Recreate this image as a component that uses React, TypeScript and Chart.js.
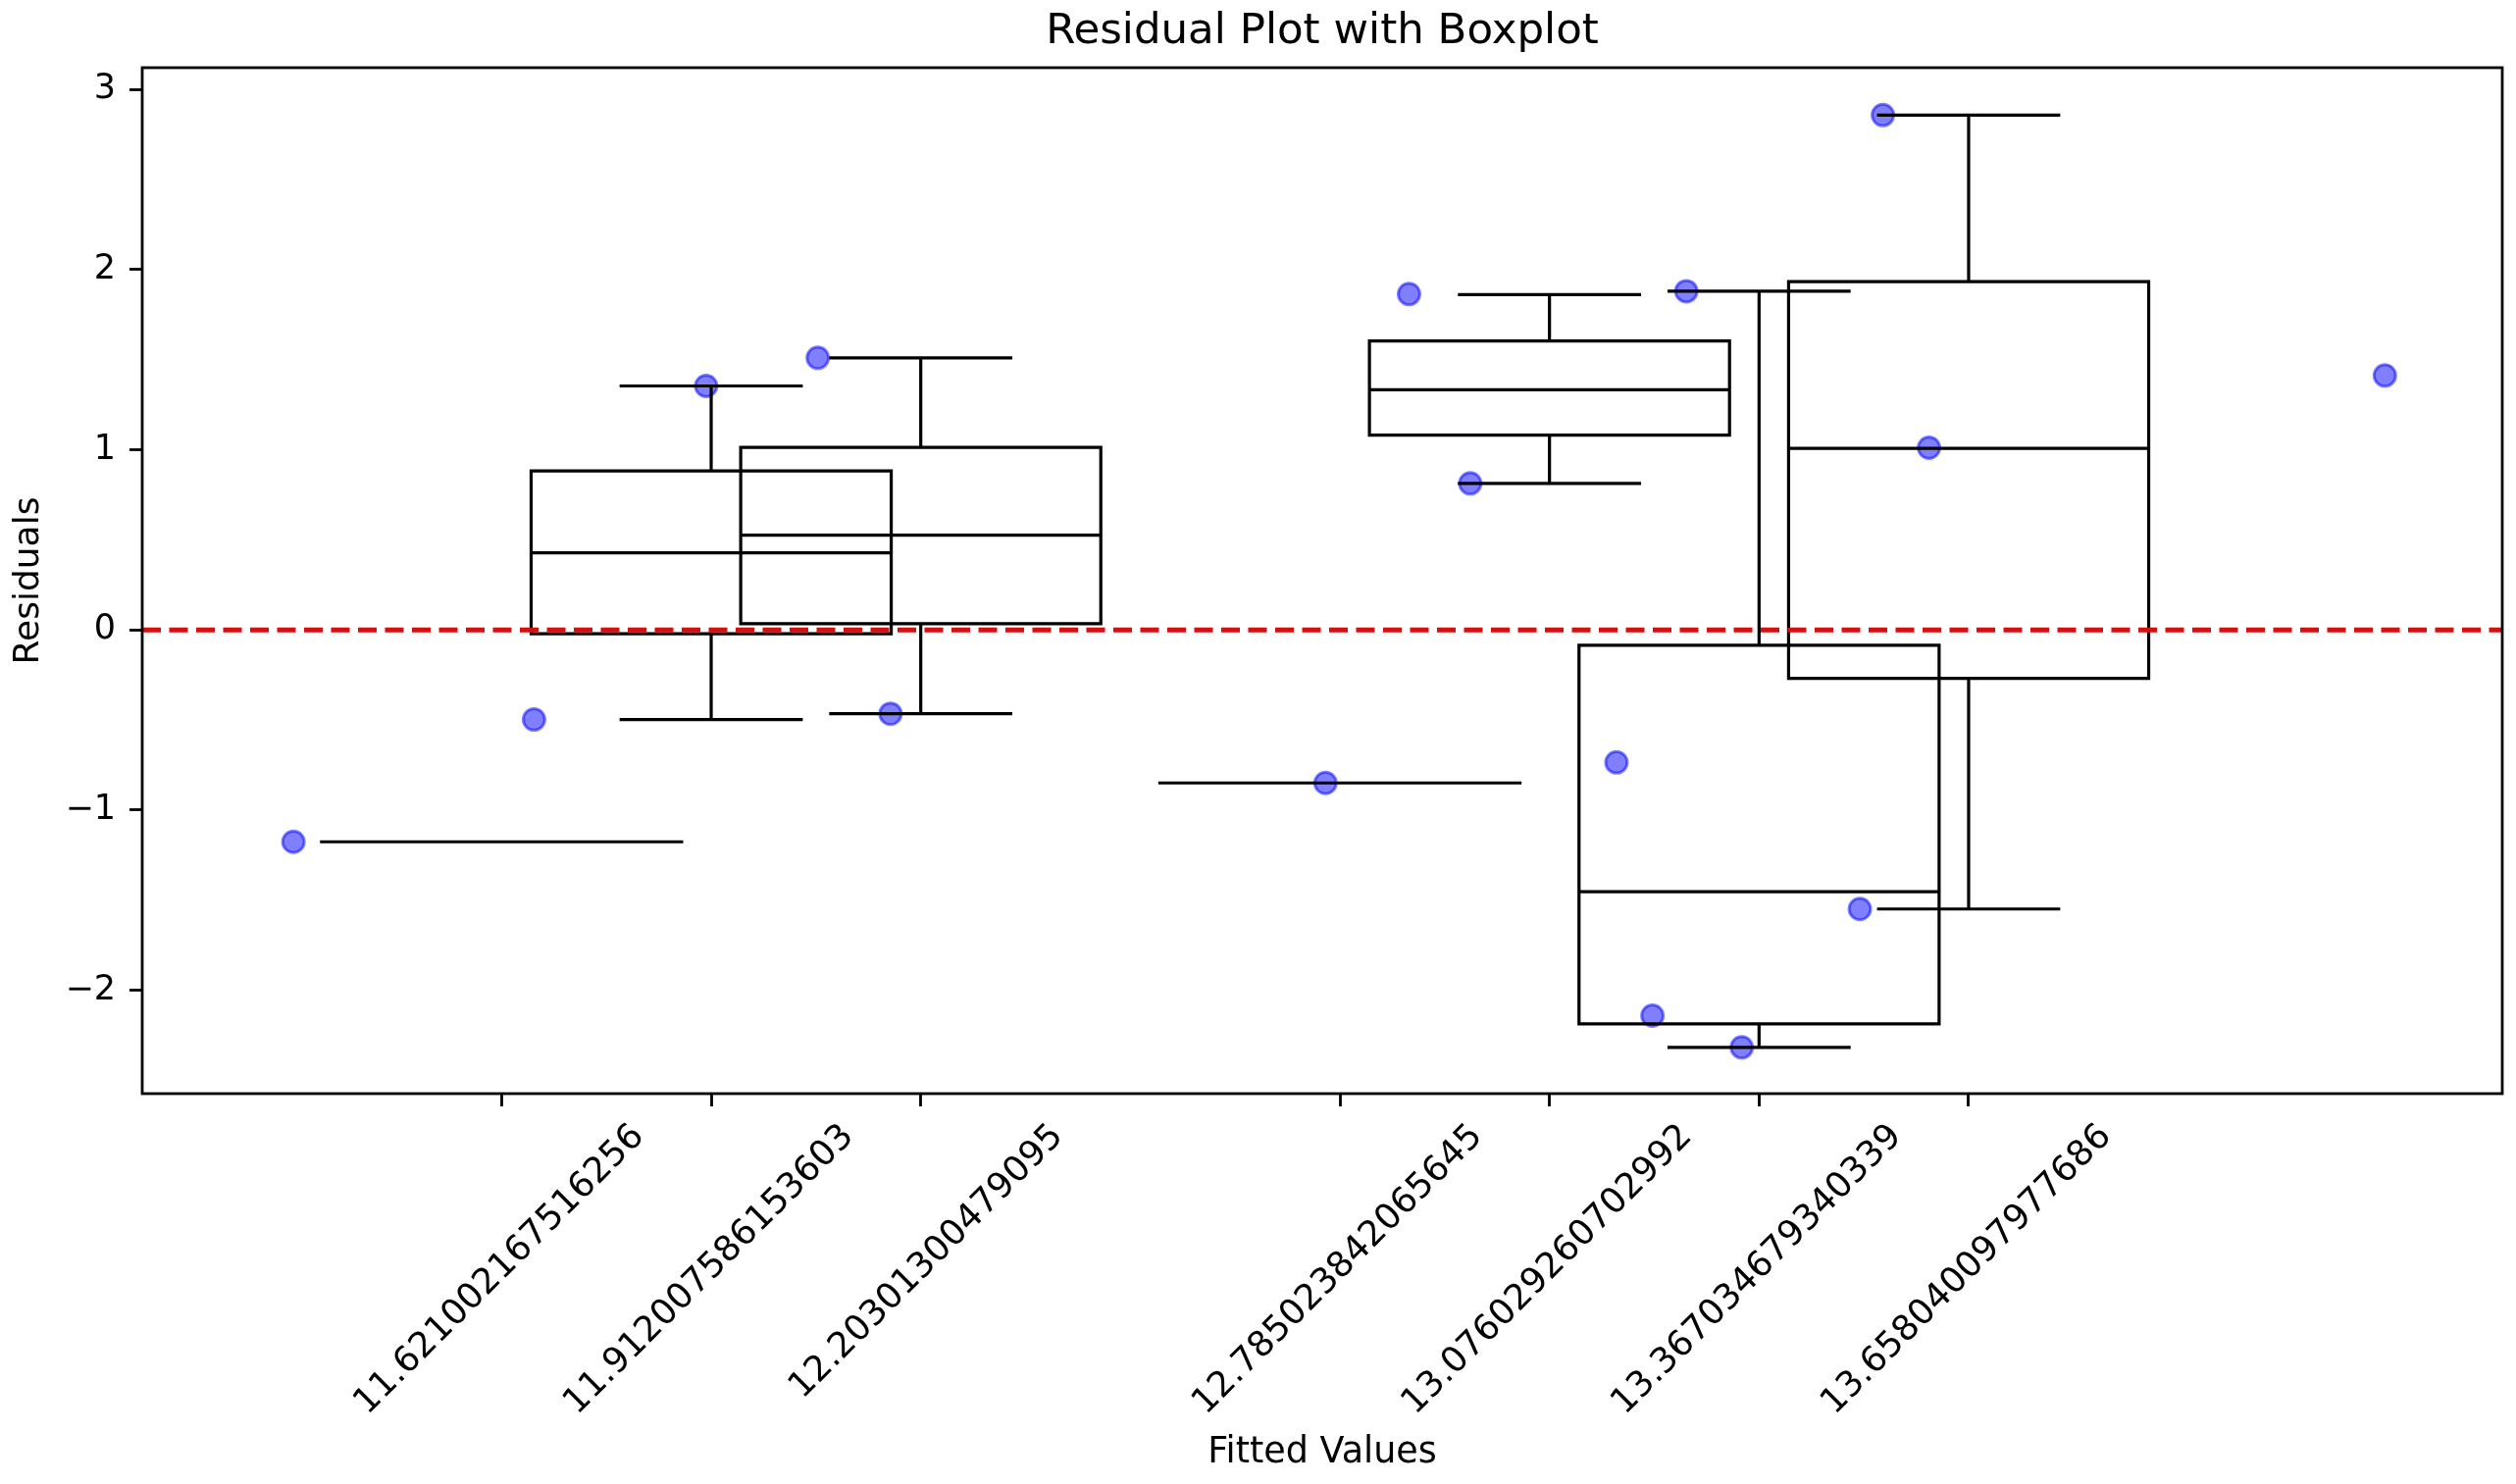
import React, { useEffect, useRef } from 'react';
import { Chart, registerables } from 'chart.js';

Chart.register(...registerables);

// ---- data ----
const tickPositions = [
  11.621002167516256, 11.912007586153603, 12.20301300479095, 12.785023842065645,
  13.076029260702992, 13.367034679340339, 13.658040097977686,
];
const tickLabels = [
  '11.621002167516256', '11.912007586153603', '12.20301300479095', '12.785023842065645',
  '13.076029260702992', '13.367034679340339', '13.658040097977686',
];
const whiskerLow = [-1.177, -0.498, -0.466, -0.85, 0.813, -2.318, -1.55];
const quartile1 = [-1.177, -0.022, 0.034, -0.85, 1.081, -2.188, -0.269];
const medians = [-1.177, 0.428, 0.525, -0.85, 1.333, -1.454, 1.008];
const quartile3 = [-1.177, 0.882, 1.013, -0.85, 1.604, -0.086, 1.933];
const whiskerHigh = [-1.177, 1.354, 1.51, -0.85, 1.861, 1.88, 2.858];

const fittedValues = [
  11.332, 11.666, 11.905, 12.06, 12.161, 12.765, 12.881, 12.966,
  13.169, 13.219, 13.266, 13.343, 13.507, 13.539, 13.603, 14.236,
];
const residuals = [
  -1.177, -0.498, 1.354, 1.51, -0.466, -0.85, 1.864, 0.813,
  -0.736, -2.142, 1.88, -2.318, -1.55, 2.858, 1.011, 1.412,
];
const yTickValues = [-2, -1, 0, 1, 2, 3];

const TITLE = 'Residual Plot with Boxplot';
const X_TITLE = 'Fitted Values';
const Y_TITLE = 'Residuals';

const X_MIN = 11.122;
const X_MAX = 14.399;
const Y_MIN = -2.575;
const Y_MAX = 3.121;
const BOX_WIDTH = 0.5;

const FONT = "'DejaVu Sans', 'Liberation Sans', sans-serif";

function boxData(i: number) {
  const p = tickPositions[i];
  const h = BOX_WIDTH / 2;
  const c = BOX_WIDTH / 4;
  const gap = { x: p, y: null as any };
  return [
    { x: p - h, y: quartile1[i] }, { x: p + h, y: quartile1[i] },
    { x: p + h, y: quartile3[i] }, { x: p - h, y: quartile3[i] },
    { x: p - h, y: quartile1[i] }, gap,
    { x: p - h, y: medians[i] }, { x: p + h, y: medians[i] }, gap,
    { x: p, y: quartile1[i] }, { x: p, y: whiskerLow[i] }, gap,
    { x: p, y: quartile3[i] }, { x: p, y: whiskerHigh[i] }, gap,
    { x: p - c, y: whiskerLow[i] }, { x: p + c, y: whiskerLow[i] }, gap,
    { x: p - c, y: whiskerHigh[i] }, { x: p + c, y: whiskerHigh[i] },
  ];
}

const framePlugin = {
  id: 'frame',
  afterDatasetsDraw(chart: any) {
    const { ctx, chartArea } = chart;
    const { left, top, right, bottom } = chartArea;
    ctx.save();
    ctx.strokeStyle = '#000';
    ctx.lineWidth = 2.8;
    ctx.lineJoin = 'miter';
    ctx.strokeRect(left, top, right - left, bottom - top);
    ctx.restore();
  },
};

// title centred over the plotting area (as matplotlib does)
const axesTitlePlugin = {
  id: 'axesTitle',
  afterDraw(chart: any) {
    const { ctx, chartArea } = chart;
    ctx.save();
    ctx.fillStyle = '#000';
    ctx.font = `normal 43.5px ${FONT}`;
    ctx.textAlign = 'center';
    ctx.textBaseline = 'middle';
    ctx.fillText(TITLE, (chartArea.left + chartArea.right) / 2, 33);
    ctx.restore();
  },
};

export default function App() {
  const canvasRef = useRef<HTMLCanvasElement | null>(null);

  useEffect(() => {
    const canvas = canvasRef.current;
    if (!canvas) return;

    const boxDatasets = tickPositions.map((_, i) => ({
      type: 'line' as const,
      data: boxData(i),
      borderColor: '#000',
      borderWidth: 3.2,
      pointRadius: 0,
      pointHoverRadius: 0,
      spanGaps: false,
      tension: 0,
      fill: false,
      borderJoinStyle: 'miter' as const,
      borderCapStyle: 'square' as const,
      order: 1,
    }));

    const chart = new Chart(canvas, {
      type: 'scatter',
      data: {
        datasets: [
          {
            type: 'line',
            data: [{ x: X_MIN, y: 0 }, { x: X_MAX, y: 0 }],
            borderColor: '#d41010',
            borderWidth: 5,
            borderDash: [19, 8.5],
            pointRadius: 0,
            fill: false,
            order: 0,
          } as any,
          ...(boxDatasets as any[]),
          {
            type: 'scatter',
            data: fittedValues.map((x, i) => ({ x, y: residuals[i] })),
            backgroundColor: 'rgba(0,0,255,0.5)',
            borderColor: 'rgba(0,0,255,0.5)',
            borderWidth: 3,
            pointRadius: 11,
            pointHoverRadius: 11,
            order: 2,
          } as any,
        ],
      },
      options: {
        responsive: false,
        animation: false,
        devicePixelRatio: 1,
        events: [],
        layout: { padding: { top: 69, left: 0, right: 14, bottom: 0 } },
        plugins: {
          legend: { display: false },
          tooltip: { enabled: false },
          title: { display: false },
        },
        scales: {
          x: {
            type: 'linear',
            min: X_MIN,
            max: X_MAX,
            bounds: 'data',
            afterBuildTicks: (s: any) => {
              s.ticks = tickPositions.map((v) => ({ value: v }));
            },
            afterFit: (s: any) => {
              s.height = 398;
            },
            ticks: {
              autoSkip: false,
              minRotation: 45,
              maxRotation: 45,
              labelOffset: 140,
              padding: 10,
              color: '#000',
              font: { family: FONT, size: 36 },
              callback: (_v: any, i: number) => tickLabels[i],
            },
            grid: {
              display: true,
              drawOnChartArea: false,
              drawTicks: true,
              tickLength: 13,
              tickWidth: 2.8,
              tickColor: '#000',
            },
            border: { display: false },
            title: {
              display: true,
              text: X_TITLE,
              color: '#000',
              font: { family: FONT, size: 36.5, lineHeight: 1.2 },
              padding: { top: 0, bottom: 10 },
            },
          },
          y: {
            type: 'linear',
            min: Y_MIN,
            max: Y_MAX,
            bounds: 'data',
            afterBuildTicks: (s: any) => {
              s.ticks = yTickValues.map((v) => ({ value: v }));
            },
            afterFit: (s: any) => {
              s.width = 145;
            },
            ticks: {
              padding: 14,
              color: '#000',
              font: { family: FONT, size: 35 },
              callback: (v: any) => (Number(v) < 0 ? '\u2212' + Math.abs(Number(v)) : String(v)),
            },
            grid: {
              display: true,
              drawOnChartArea: false,
              drawTicks: true,
              tickLength: 13,
              tickWidth: 2.8,
              tickColor: '#000',
            },
            border: { display: false },
            title: {
              display: true,
              text: Y_TITLE,
              color: '#000',
              font: { family: FONT, size: 36, lineHeight: 1.2 },
              padding: { top: 8, bottom: 0 },
            },
          },
        },
      } as any,
      plugins: [framePlugin, axesTitlePlugin],
    });

    return () => {
      chart.destroy();
    };
  }, []);

  return (
    <div
      style={{
        position: 'fixed',
        left: 0,
        top: 0,
        width: '2565px',
        height: '1513px',
        background: '#fff',
        overflow: 'hidden',
      }}
    >
      <canvas ref={canvasRef} width={2565} height={1513} style={{ width: '2565px', height: '1513px', display: 'block' }} />
    </div>
  );
}
